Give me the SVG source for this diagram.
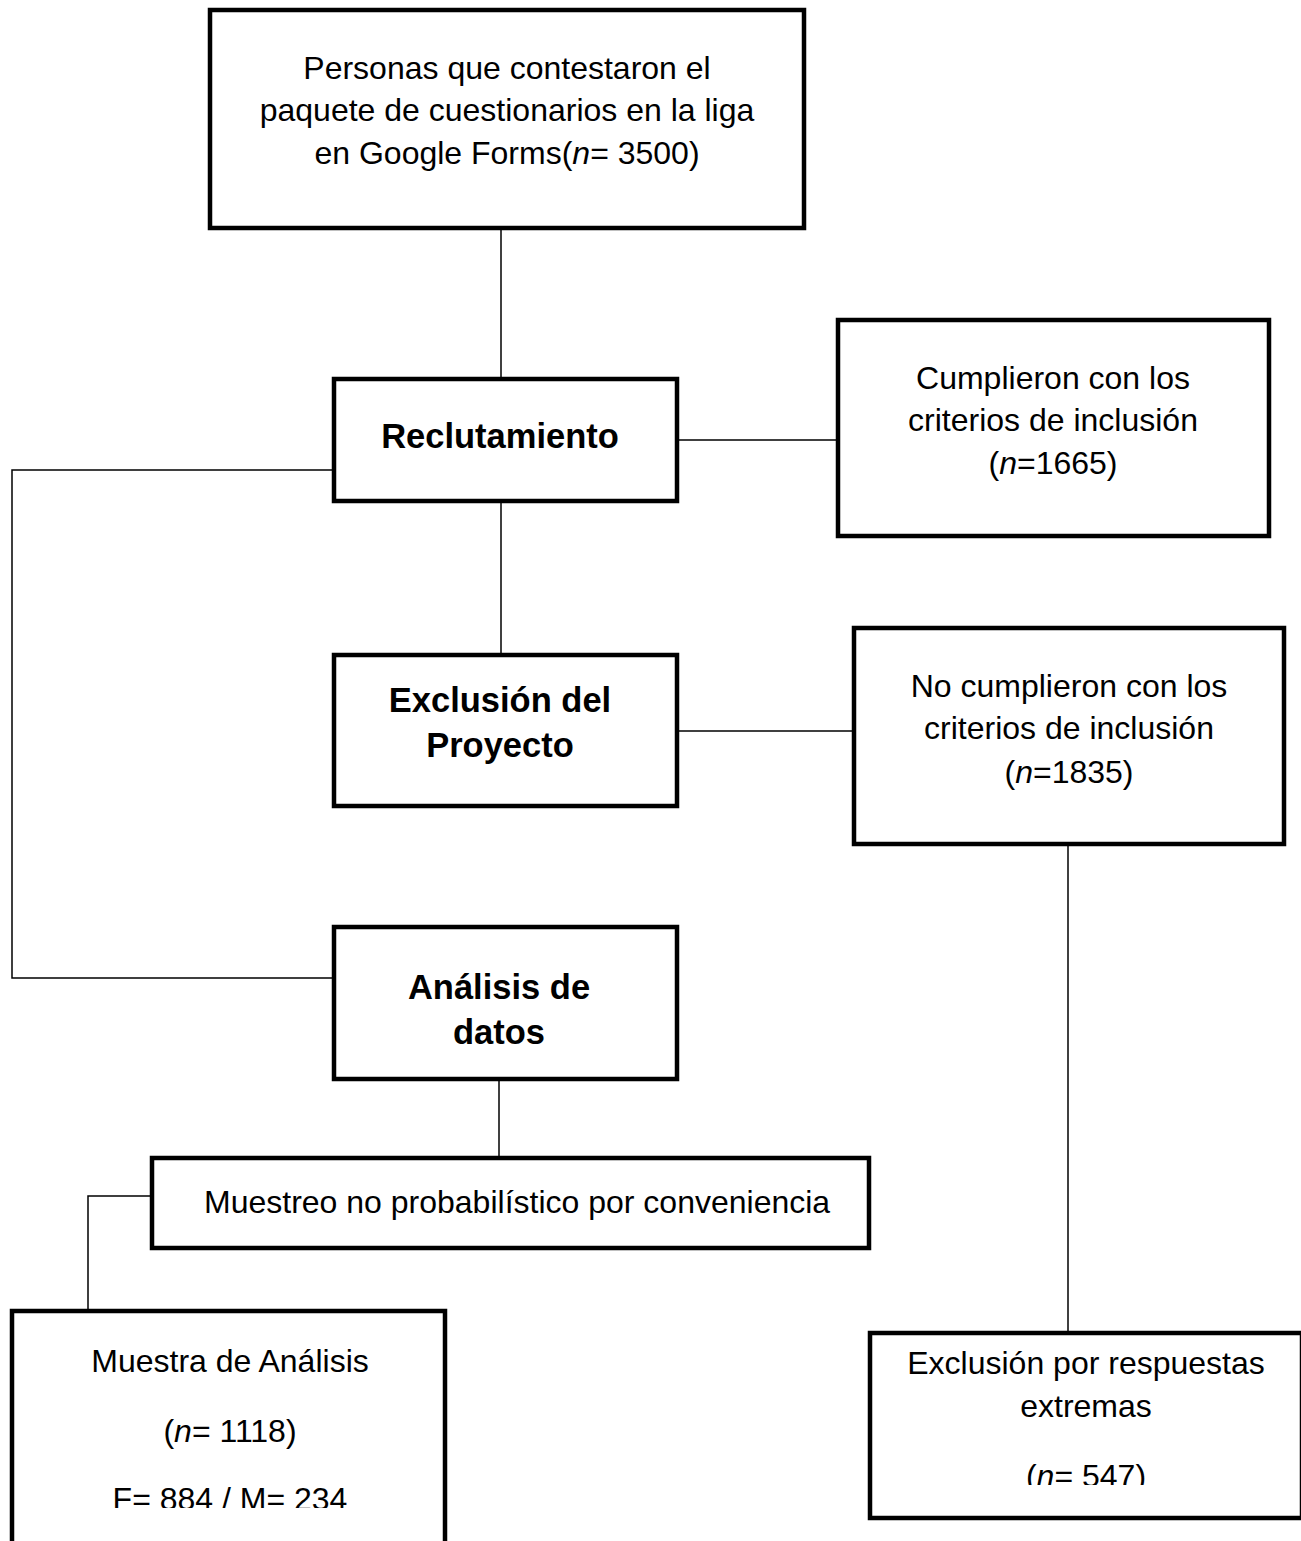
<svg xmlns="http://www.w3.org/2000/svg" width="1301" height="1541" viewBox="0 0 1301 1541">
<style>
.box{fill:#fff;stroke:#000;stroke-width:4.5}
.con{fill:none;stroke:#000;stroke-width:1.5}
text{font-family:"Liberation Sans",Arial,sans-serif;fill:#000}
.r{font-size:32px;text-anchor:middle}
.b{font-size:34.5px;font-weight:bold;text-anchor:middle}
.i{font-style:italic}
</style>
<defs>
<clipPath id="clipA"><rect x="14" y="1313" width="429" height="195"/></clipPath>
<clipPath id="clipB"><rect x="872" y="1335" width="429" height="150"/></clipPath>
</defs>
<rect width="1301" height="1541" fill="#fff"/>
<g id="connectors">
<line class="con" x1="501" y1="228" x2="501" y2="379"/>
<line class="con" x1="677" y1="440" x2="838" y2="440"/>
<polyline class="con" points="334,470 12,470 12,978 334,978"/>
<line class="con" x1="501" y1="501" x2="501" y2="655"/>
<line class="con" x1="677" y1="731" x2="854" y2="731"/>
<line class="con" x1="1068" y1="844" x2="1068" y2="1333"/>
<line class="con" x1="499" y1="1079" x2="499" y2="1158"/>
<polyline class="con" points="152,1196 88,1196 88,1311"/>
</g>
<g id="node-personas">
<rect class="box" x="210" y="10" width="594" height="218"/>
<text class="r" x="507" y="79">Personas que contestaron el</text>
<text class="r" x="507" y="121">paquete de cuestionarios en la liga</text>
<text class="r" x="507" y="164">en Google Forms(<tspan class="i">n</tspan>= 3500)</text>
</g>
<g id="node-reclutamiento">
<rect class="box" x="334" y="379" width="343" height="122"/>
<text class="b" x="500" y="448">Reclutamiento</text>
</g>
<g id="node-cumplieron">
<rect class="box" x="838" y="320" width="431" height="216"/>
<text class="r" x="1053" y="389">Cumplieron con los</text>
<text class="r" x="1053" y="431">criterios de inclusión</text>
<text class="r" x="1053" y="474">(<tspan class="i">n</tspan>=1665)</text>
</g>
<g id="node-exclusion-proyecto">
<rect class="box" x="334" y="655" width="343" height="151"/>
<text class="b" x="500" y="712">Exclusión del</text>
<text class="b" x="500" y="757">Proyecto</text>
</g>
<g id="node-no-cumplieron">
<rect class="box" x="854" y="628" width="430" height="216"/>
<text class="r" x="1069" y="697">No cumplieron con los</text>
<text class="r" x="1069" y="739">criterios de inclusión</text>
<text class="r" x="1069" y="783">(<tspan class="i">n</tspan>=1835)</text>
</g>
<g id="node-analisis">
<rect class="box" x="334" y="927" width="343" height="152"/>
<text class="b" x="499" y="999">Análisis de</text>
<text class="b" x="499" y="1044">datos</text>
</g>
<g id="node-muestreo">
<rect class="box" x="152" y="1158" width="717" height="90"/>
<text style="font-size:32px" x="204" y="1213">Muestreo no probabilístico por conveniencia</text>
</g>
<g id="node-muestra">
<rect class="box" x="12" y="1311" width="433" height="250"/>
<g clip-path="url(#clipA)">
<text class="r" x="230" y="1372">Muestra de Análisis</text>
<text class="r" x="230" y="1442">(<tspan class="i">n</tspan>= 1118)</text>
<text class="r" x="230" y="1510">F= 884 / M= 234</text>
</g>
</g>
<g id="node-exclusion-respuestas">
<rect class="box" x="870" y="1333" width="432" height="185"/>
<g clip-path="url(#clipB)">
<text class="r" x="1086" y="1374">Exclusión por respuestas</text>
<text class="r" x="1086" y="1417">extremas</text>
<text class="r" x="1086" y="1487">(<tspan class="i">n</tspan>= 547)</text>
</g>
</g>
</svg>
